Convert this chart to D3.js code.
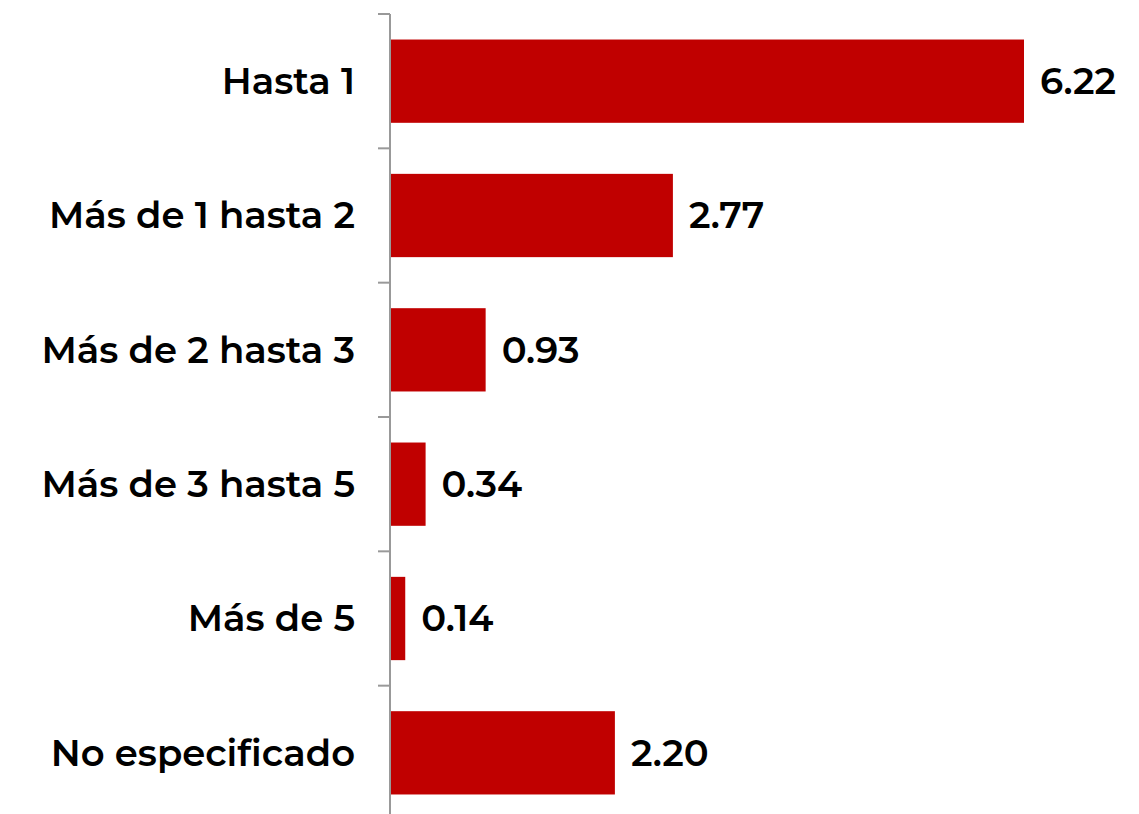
<!DOCTYPE html>
<html>
<head>
<meta charset="utf-8">
<script src="https://cdn.jsdelivr.net/npm/d3@7"></script>
<style>
  body { margin: 0; background: #fff; }
  svg { display: block; }
  text { font-family: "Montserrat", "Inter", "Open Sans", sans-serif; font-weight: 600; fill: #000; }
</style>
</head>
<body>
<div id="chart"></div>
<script>
// categories and values
var categories = ["Hasta 1", "Más de 1 hasta 2", "Más de 2 hasta 3", "Más de 3 hasta 5", "Más de 5", "No especificado"];
var values = [6.22, 2.77, 0.93, 0.34, 0.14, 2.20];

var width = 1139, height = 814;
var data = categories.map(function(c, i) { return { cat: c, value: values[i] }; });

var svg = d3.select("#chart")
	.append("svg")
	.attr("width", width)
	.attr("height", height);

var x = d3.scaleLinear()
	.domain([0, 6.22])
	.range([391, 1024]);

var y = d3.scaleBand()
	.domain(categories)
	.range([14, 820])
	.paddingInner(0.38)
	.paddingOuter(0.19);

var step = y.step();
var color = "#C00000";

// bars
svg.append("g").selectAll("rect")
	.data(data)
	.enter()
	.append("rect")
	.attr("x", x(0))
	.attr("y", function(d) { return y(d.cat); })
	.attr("width", function(d) { return x(d.value) - x(0); })
	.attr("height", y.bandwidth())
	.attr("fill", color);

// axis line and ticks at band boundaries
var axis = svg.append("g");
axis.append("line")
	.attr("x1", 390).attr("x2", 390)
	.attr("y1", 14).attr("y2", height)
	.attr("stroke", "#999").attr("stroke-width", 2);

var bounds = d3.range(categories.length + 1).map(function(i) { return y.range()[0] + i * step; });
axis.selectAll("line.tick")
	.data(bounds)
	.enter()
	.append("line")
	.attr("class", "tick")
	.attr("x1", 378).attr("x2", 390)
	.attr("y1", function(d) { return d; })
	.attr("y2", function(d) { return d; })
	.attr("stroke", "#999").attr("stroke-width", 2);

// category labels
svg.append("g").selectAll("text")
	.data(data)
	.enter()
	.append("text")
	.attr("x", 355)
	.attr("y", function(d) { return y(d.cat) + y.bandwidth() / 2; })
	.attr("dy", "0.35em")
	.attr("text-anchor", "end")
	.attr("font-size", 37)
	.text(function(d) { return d.cat; });

// value labels
svg.append("g").selectAll("text")
	.data(data)
	.enter()
	.append("text")
	.attr("x", function(d) { return x(d.value) + 16; })
	.attr("y", function(d) { return y(d.cat) + y.bandwidth() / 2; })
	.attr("dy", "0.35em")
	.attr("font-size", 37)
	.text(function(d) { return d.value.toFixed(2); });
</script>
</body>
</html>
